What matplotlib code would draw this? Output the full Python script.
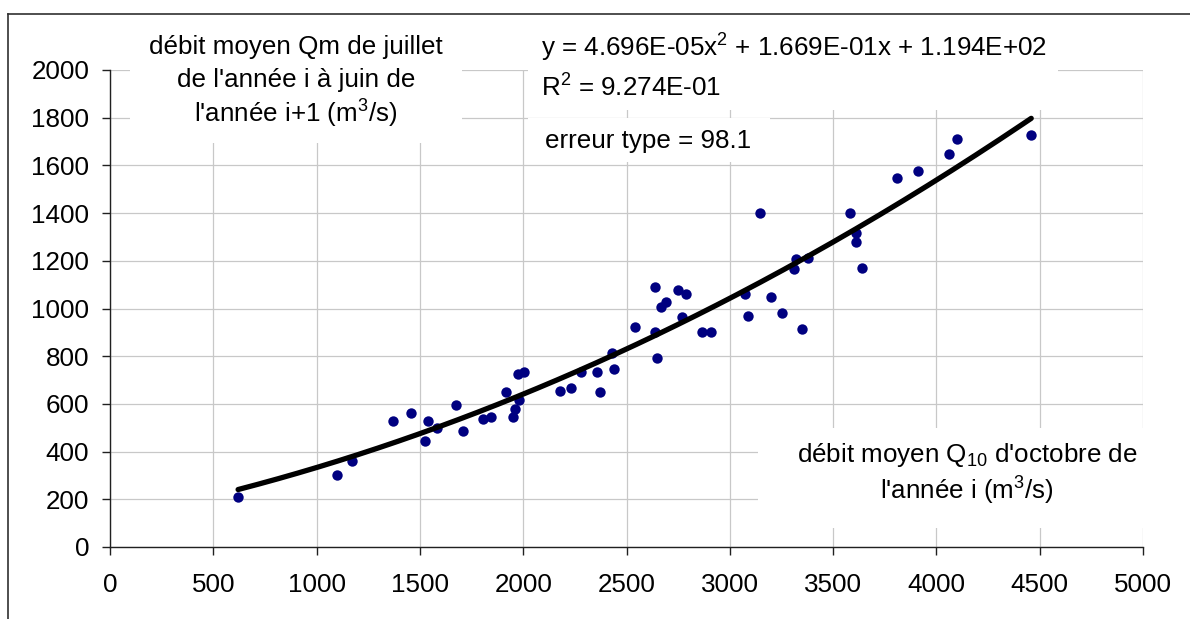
import numpy as np
import matplotlib
matplotlib.use("Agg")
import matplotlib.pyplot as plt
from matplotlib.patches import Rectangle
from matplotlib.lines import Line2D

# ------------------------------------------------------------
# Data
# ------------------------------------------------------------
q10_oct = [620, 1099, 1171, 1368, 1457, 1525, 1539, 1581, 1677, 1709,
           1807, 1843, 1918, 1951, 1960, 1980, 1975, 2006, 2178, 2230,
           2281, 2357, 2372, 2428, 2441, 2540, 2638, 2638, 2649, 2669,
           2691, 2749, 2770, 2788, 2867, 2911, 3074, 3088, 3146, 3199,
           3251, 3348, 3309, 3320, 3380, 3580, 3611, 3609, 3640, 3811,
           3913, 4063, 4101, 4459]
qm_annual = [210, 302, 361, 527, 562, 444, 527, 498, 595, 488,
             537, 546, 651, 546, 577, 616, 725, 735, 654, 668,
             735, 732, 650, 812, 746, 921, 1089, 903, 794, 1008,
             1026, 1079, 963, 1059, 903, 903, 1061, 969, 1400, 1050,
             980, 915, 1167, 1209, 1213, 1399, 1315, 1280, 1170, 1549,
             1577, 1648, 1709, 1726]

# trendline coefficients shown on the chart
trend_coef = [4.696e-05, 1.669e-01, 1.194e+02]

x_ticks = [0, 500, 1000, 1500, 2000, 2500, 3000, 3500, 4000, 4500, 5000]
y_ticks = [0, 200, 400, 600, 800, 1000, 1200, 1400, 1600, 1800, 2000]

# ------------------------------------------------------------
# Figure
# ------------------------------------------------------------
plt.rcParams["font.family"] = ["Liberation Sans", "DejaVu Sans"]
plt.rcParams["mathtext.fontset"] = "custom"
plt.rcParams["mathtext.rm"] = "Liberation Sans"

W, H = 1190, 619
FS = 18.7

fig = plt.figure(figsize=(W / 100, H / 100), dpi=100)


def px(x, y):
    return x / W, 1 - y / H


ax = fig.add_axes([110 / W, 1 - 547 / H, (1143 - 110) / W, (547 - 70) / H])

ax.scatter(q10_oct, qm_annual, s=56, color="#000080", zorder=3, linewidths=0)

xs = np.linspace(min(q10_oct), max(q10_oct), 200)
ax.plot(xs, np.polyval(trend_coef, xs), color="black", lw=3.8,
        solid_capstyle="round", zorder=4)

ax.set_xlim(0, 5000)
ax.set_ylim(0, 2000)
ax.set_xticks(x_ticks)
ax.set_yticks(y_ticks)
ax.grid(True, color="#c8c8c8", lw=0.9)
ax.set_axisbelow(True)

for s in ["top", "right"]:
    ax.spines[s].set_visible(False)
for s in ["left", "bottom"]:
    ax.spines[s].set_linewidth(1.0)
    ax.spines[s].set_color("#202020")

ax.tick_params(axis="both", direction="out", length=6, width=1.0,
               color="#202020", labelsize=FS)
ax.tick_params(axis="y", pad=9)
ax.tick_params(axis="x", pad=13)

# ------------------------------------------------------------
# White label boxes (cover the grid like the original)
# ------------------------------------------------------------
boxes = [(130, 20, 462, 143),    # y title
         (528, 20, 1058, 110),   # equation
         (528, 118, 770, 162),   # standard error
         (758, 428, 1175, 528)]  # x title
for x0, y0, x1, y1 in boxes:
    fig.add_artist(Rectangle(px(x0, y1), (x1 - x0) / W, (y1 - y0) / H,
                             transform=fig.transFigure, facecolor="white",
                             edgecolor="none", zorder=5))

# chart border
fig.add_artist(Line2D([8 / W, 8 / W], [-0.01, 1 - 14 / H],
                      transform=fig.transFigure, color="#303030", lw=1.2, zorder=6))
fig.add_artist(Line2D([8 / W, 1.01], [1 - 14 / H, 1 - 14 / H],
                      transform=fig.transFigure, color="#303030", lw=1.2, zorder=6))

# ------------------------------------------------------------
# Texts
# ------------------------------------------------------------
txt = dict(fontsize=FS, color="black", zorder=7, va="center")

fig.text(*px(296, 47), "débit moyen Qm de juillet", ha="center", **txt)
fig.text(*px(296, 80), "de l'année i à juin de", ha="center", **txt)
fig.text(*px(296, 114), "l'année i+1 (m$\\mathregular{^3}$/s)", ha="center", **txt)

fig.text(*px(541, 48),
         "y = 4.696E-05x$\\mathregular{^2}$ + 1.669E-01x + 1.194E+02",
         ha="left", **txt)
fig.text(*px(541, 88), "R$\\mathregular{^2}$ = 9.274E-01", ha="left", **txt)
fig.text(*px(545, 141), "erreur type = 98.1", ha="left", **txt)

fig.text(*px(967, 455), "débit moyen Q$\\mathregular{_{10}}$ d'octobre de",
         ha="center", **txt)
fig.text(*px(967, 491), "l'année i (m$\\mathregular{^3}$/s)", ha="center", **txt)

fig.savefig("out.png", dpi=100)
